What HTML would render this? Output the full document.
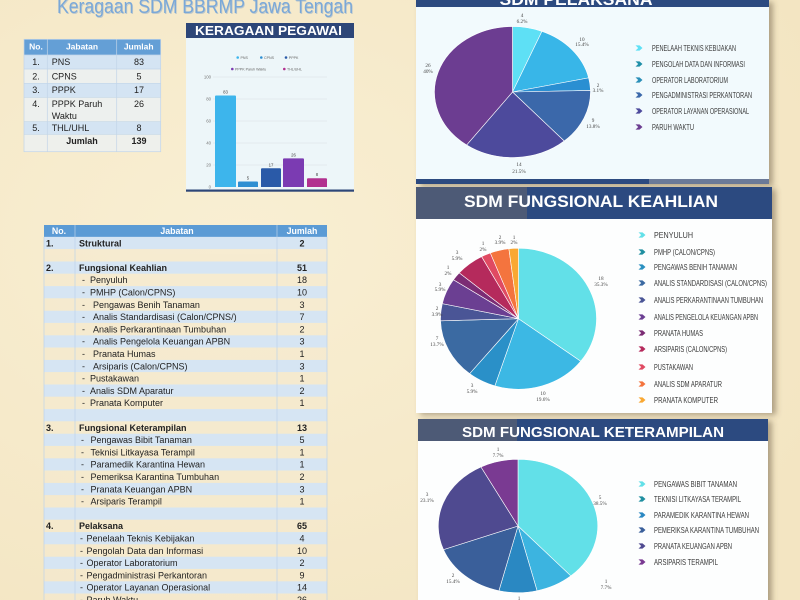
<!DOCTYPE html>
<html><head><meta charset="utf-8"><style>
html,body{margin:0;padding:0;background:#f7ebcb;}
svg{display:block}
</style></head><body>
<svg width="800" height="600" viewBox="0 0 800 600" xmlns="http://www.w3.org/2000/svg" font-family="'Liberation Sans', sans-serif">
<defs>
<filter id="sh" x="-10%" y="-10%" width="125%" height="125%"><feDropShadow dx="4" dy="2" stdDeviation="3" flood-color="#5a4a30" flood-opacity="0.45"/></filter>
<radialGradient id="bg" cx="0.3" cy="0.4" r="0.8"><stop offset="0" stop-color="#f9efd3"/><stop offset="1" stop-color="#f3e5c2"/></radialGradient>
<g id="mk"><path d="M-3.5,-2.6 L0.5,-2.6 L3.5,0 L0.5,2.6 L-3.5,2.6 L-0.8,0 Z"/></g>
</defs>
<rect width="800" height="600" fill="url(#bg)"/>

<!-- Title -->
<text x="57" y="13" font-size="20" fill="#8aa9cc" textLength="296" lengthAdjust="spacingAndGlyphs" opacity="0.5" transform="translate(0.8,0.8)">Keragaan SDM BBRMP Jawa Tengah</text>
<text x="57" y="13" font-size="20" fill="#7aa8d8" textLength="296" lengthAdjust="spacingAndGlyphs">Keragaan SDM BBRMP Jawa Tengah</text>

<!-- Small table -->
<g font-size="9" fill="#222">
<rect x="24" y="39.3" width="136.7" height="15.7" fill="#649fd6"/>
<rect x="24" y="55" width="136.7" height="14" fill="#d4e4f3"/>
<rect x="24" y="69" width="136.7" height="14.3" fill="#edf0ee"/>
<rect x="24" y="83.3" width="136.7" height="14" fill="#d4e4f3"/>
<rect x="24" y="97.3" width="136.7" height="24.4" fill="#edf0ee"/>
<rect x="24" y="121.7" width="136.7" height="12.6" fill="#d4e4f3"/>
<rect x="24" y="134.3" width="136.7" height="17.4" fill="#eef0ec"/>
<g stroke="#c2d5e8" stroke-width="0.7" fill="none">
<rect x="24" y="39.3" width="136.7" height="112.4"/>
<line x1="47.3" y1="39.3" x2="47.3" y2="151.7"/><line x1="116.7" y1="39.3" x2="116.7" y2="151.7"/>
<line x1="24" y1="55" x2="160.7" y2="55"/><line x1="24" y1="69" x2="160.7" y2="69"/><line x1="24" y1="83.3" x2="160.7" y2="83.3"/><line x1="24" y1="97.3" x2="160.7" y2="97.3"/><line x1="24" y1="121.7" x2="160.7" y2="121.7"/><line x1="24" y1="134.3" x2="160.7" y2="134.3"/>
</g>
<g fill="#fff" font-weight="bold" font-size="8.5" text-anchor="middle"><text x="36" y="49.5">No.</text><text x="82" y="49.5">Jabatan</text><text x="138.7" y="49.5">Jumlah</text></g>
<g text-anchor="middle"><text x="36" y="65">1.</text><text x="36" y="79.3">2.</text><text x="36" y="93">3.</text><text x="36" y="107">4.</text><text x="36" y="131">5.</text></g>
<text x="51.7" y="65">PNS</text><text x="51.7" y="79.3">CPNS</text><text x="51.7" y="93">PPPK</text><text x="51.7" y="107">PPPK Paruh</text><text x="51.7" y="119">Waktu</text><text x="51.7" y="131">THL/UHL</text>
<g text-anchor="middle"><text x="139" y="65">83</text><text x="139" y="79.3">5</text><text x="139" y="93">17</text><text x="139" y="107">26</text><text x="139" y="131">8</text></g>
<text x="82" y="144" font-weight="bold" text-anchor="middle">Jumlah</text><text x="139" y="144" font-weight="bold" text-anchor="middle">139</text>
</g>

<!-- Bar chart panel -->
<g>
<rect x="186" y="23" width="168" height="168" fill="#edf6f9"/>
<rect x="186" y="23" width="168" height="15" fill="#2d4678"/>
<text x="268.5" y="35" font-size="12.5" font-weight="bold" fill="#fff" text-anchor="middle" textLength="147" lengthAdjust="spacingAndGlyphs">KERAGAAN PEGAWAI</text>
<rect x="186" y="189.5" width="168" height="2.2" fill="#2d4678"/>
<g stroke="#d8dde2" stroke-width="0.5"><line x1="213" y1="77" x2="327" y2="77"/><line x1="213" y1="99" x2="327" y2="99"/><line x1="213" y1="121" x2="327" y2="121"/><line x1="213" y1="143" x2="327" y2="143"/><line x1="213" y1="165" x2="327" y2="165"/></g>
<g font-size="4.3" fill="#777" text-anchor="end"><text x="211" y="78.5">100</text><text x="211" y="100.5">80</text><text x="211" y="122.5">60</text><text x="211" y="144.5">40</text><text x="211" y="166.5">20</text><text x="211" y="188.5">0</text></g>
<path d="M215,187 V96.5 Q215,95.5 216,95.5 H235 Q236,95.5 236,96.5 V187 Z" fill="#3db5ec"/>
<path d="M238,187 V182.5 Q238,181.5 239,181.5 H257 Q258,181.5 258,182.5 V187 Z" fill="#2f8fd2"/>
<path d="M261,187 V169.3 Q261,168.3 262,168.3 H280 Q281,168.3 281,169.3 V187 Z" fill="#2a5aa8"/>
<path d="M283,187 V159.4 Q283,158.4 284,158.4 H303 Q304,158.4 304,159.4 V187 Z" fill="#7b3bb2"/>
<path d="M307,187 V179.2 Q307,178.2 308,178.2 H326 Q327,178.2 327,179.2 V187 Z" fill="#b2308f"/>
<g font-size="4.3" fill="#444" text-anchor="middle"><text x="225.5" y="93.5">83</text><text x="248" y="179.5">5</text><text x="271" y="166.3">17</text><text x="293.5" y="156.4">26</text><text x="317" y="176.2">8</text></g>
<g font-size="3.6" fill="#666">
<circle cx="237.7" cy="57.5" r="1.3" fill="#3db5ec"/><text x="240.5" y="58.8">PNS</text>
<circle cx="261.3" cy="57.5" r="1.3" fill="#2f8fd2"/><text x="264" y="58.8">CPNS</text>
<circle cx="286" cy="57.5" r="1.3" fill="#2a5aa8"/><text x="288.8" y="58.8">PPPK</text>
<circle cx="232.3" cy="69" r="1.3" fill="#7b3bb2"/><text x="235" y="70.3">PPPK Paruh Waktu</text>
<circle cx="284.3" cy="69" r="1.3" fill="#b2308f"/><text x="287" y="70.3">THL/UHL</text>
</g>
</g>

<!-- Big table -->
<g font-size="9" fill="#222">
<rect x="44" y="225" width="283" height="12" fill="#5b9bd5"/>
<g fill="#fff" font-weight="bold" text-anchor="middle" font-size="8.8"><text x="59" y="234">No.</text><text x="177" y="234">Jabatan</text><text x="302" y="234">Jumlah</text></g>
<g fill="#d6e5f3">
<rect x="44" y="236.85" width="283" height="12.3"/><rect x="44" y="261.45" width="283" height="12.3"/><rect x="44" y="286.05" width="283" height="12.3"/><rect x="44" y="310.65" width="283" height="12.3"/><rect x="44" y="335.25" width="283" height="12.3"/><rect x="44" y="359.85" width="283" height="12.3"/><rect x="44" y="384.45" width="283" height="12.3"/><rect x="44" y="409.05" width="283" height="12.3"/><rect x="44" y="433.65" width="283" height="12.3"/><rect x="44" y="458.25" width="283" height="12.3"/><rect x="44" y="482.85" width="283" height="12.3"/><rect x="44" y="507.45" width="283" height="12.3"/><rect x="44" y="532.05" width="283" height="12.3"/><rect x="44" y="556.65" width="283" height="12.3"/><rect x="44" y="581.25" width="283" height="12.3"/>
</g>
<g fill="#f5ead0" opacity="0.6">
<rect x="44" y="249.15" width="283" height="12.3"/><rect x="44" y="273.75" width="283" height="12.3"/><rect x="44" y="298.35" width="283" height="12.3"/><rect x="44" y="322.95" width="283" height="12.3"/><rect x="44" y="347.55" width="283" height="12.3"/><rect x="44" y="372.15" width="283" height="12.3"/><rect x="44" y="396.75" width="283" height="12.3"/><rect x="44" y="421.35" width="283" height="12.3"/><rect x="44" y="445.95" width="283" height="12.3"/><rect x="44" y="470.55" width="283" height="12.3"/><rect x="44" y="495.15" width="283" height="12.3"/><rect x="44" y="519.75" width="283" height="12.3"/><rect x="44" y="544.35" width="283" height="12.3"/><rect x="44" y="568.95" width="283" height="12.3"/><rect x="44" y="593.55" width="283" height="12.3"/>
</g>
<g stroke="#bcd2e8" stroke-width="0.7"><line x1="75" y1="225" x2="75" y2="600"/><line x1="277" y1="225" x2="277" y2="600"/><line x1="44" y1="237" x2="44" y2="600"/><line x1="327" y1="237" x2="327" y2="600"/></g>
<g font-weight="bold">
<text x="46" y="246.3">1.</text><text x="79" y="246.3">Struktural</text><text x="302" y="246.3" text-anchor="middle">2</text>
<text x="46" y="270.9">2.</text><text x="79" y="270.9">Fungsional Keahlian</text><text x="302" y="270.9" text-anchor="middle">51</text>
<text x="46" y="430.8">3.</text><text x="79" y="430.8">Fungsional Keterampilan</text><text x="302" y="430.8" text-anchor="middle">13</text>
<text x="46" y="529.2">4.</text><text x="79" y="529.2">Pelaksana</text><text x="302" y="529.2" text-anchor="middle">65</text>
</g>
<g>
<text x="82" y="283.2">-</text><text x="90" y="283.2">Penyuluh</text><text x="302" y="283.2" text-anchor="middle">18</text>
<text x="82" y="295.5">-</text><text x="90" y="295.5">PMHP (Calon/CPNS)</text><text x="302" y="295.5" text-anchor="middle">10</text>
<text x="82" y="307.8">-</text><text x="93" y="307.8">Pengawas Benih Tanaman</text><text x="302" y="307.8" text-anchor="middle">3</text>
<text x="82" y="320.1">-</text><text x="93" y="320.1">Analis Standardisasi (Calon/CPNS/)</text><text x="302" y="320.1" text-anchor="middle">7</text>
<text x="82" y="332.4">-</text><text x="93" y="332.4">Analis Perkarantinaan Tumbuhan</text><text x="302" y="332.4" text-anchor="middle">2</text>
<text x="82" y="344.7">-</text><text x="93" y="344.7">Analis Pengelola Keuangan APBN</text><text x="302" y="344.7" text-anchor="middle">3</text>
<text x="82" y="357">-</text><text x="93" y="357">Pranata Humas</text><text x="302" y="357" text-anchor="middle">1</text>
<text x="82" y="369.3">-</text><text x="93" y="369.3">Arsiparis (Calon/CPNS)</text><text x="302" y="369.3" text-anchor="middle">3</text>
<text x="82" y="381.6">-</text><text x="90" y="381.6">Pustakawan</text><text x="302" y="381.6" text-anchor="middle">1</text>
<text x="82" y="393.9">-</text><text x="90" y="393.9">Analis SDM Aparatur</text><text x="302" y="393.9" text-anchor="middle">2</text>
<text x="82" y="406.2">-</text><text x="90" y="406.2">Pranata Komputer</text><text x="302" y="406.2" text-anchor="middle">1</text>
<text x="81" y="443.1">-</text><text x="90.5" y="443.1">Pengawas Bibit Tanaman</text><text x="302" y="443.1" text-anchor="middle">5</text>
<text x="81" y="455.4">-</text><text x="90.5" y="455.4">Teknisi Litkayasa Terampil</text><text x="302" y="455.4" text-anchor="middle">1</text>
<text x="81" y="467.7">-</text><text x="90.5" y="467.7">Paramedik Karantina Hewan</text><text x="302" y="467.7" text-anchor="middle">1</text>
<text x="81" y="480">-</text><text x="90.5" y="480">Pemeriksa Karantina Tumbuhan</text><text x="302" y="480" text-anchor="middle">2</text>
<text x="81" y="492.3">-</text><text x="90.5" y="492.3">Pranata Keuangan APBN</text><text x="302" y="492.3" text-anchor="middle">3</text>
<text x="81" y="504.6">-</text><text x="90.5" y="504.6">Arsiparis Terampil</text><text x="302" y="504.6" text-anchor="middle">1</text>
<text x="80" y="541.5">-</text><text x="86.5" y="541.5">Penelaah Teknis Kebijakan</text><text x="302" y="541.5" text-anchor="middle">4</text>
<text x="80" y="553.8">-</text><text x="86.5" y="553.8">Pengolah Data dan Informasi</text><text x="302" y="553.8" text-anchor="middle">10</text>
<text x="80" y="566.1">-</text><text x="86.5" y="566.1">Operator Laboratorium</text><text x="302" y="566.1" text-anchor="middle">2</text>
<text x="80" y="578.4">-</text><text x="86.5" y="578.4">Pengadministrasi Perkantoran</text><text x="302" y="578.4" text-anchor="middle">9</text>
<text x="80" y="590.7">-</text><text x="86.5" y="590.7">Operator Layanan Operasional</text><text x="302" y="590.7" text-anchor="middle">14</text>
<text x="80" y="603">-</text><text x="86.5" y="603">Paruh Waktu</text><text x="302" y="603" text-anchor="middle">26</text>
</g>
</g>

<!-- Panel 1: SDM PELAKSANA -->
<g filter="url(#sh)">
<rect x="416" y="0" width="353" height="184" fill="#f2fafd"/>
</g>
<rect x="416" y="0" width="353" height="7" fill="#2c4a80"/>
<text x="576" y="5" font-size="17" font-weight="bold" fill="#fff" text-anchor="middle" textLength="153" lengthAdjust="spacingAndGlyphs">SDM PELAKSANA</text>
<rect x="416" y="179" width="233" height="5" fill="#2c4a80"/>
<rect x="649" y="179" width="120" height="5" fill="#6b7a98"/>
<g stroke="#fff" stroke-width="0.6">
<path d="M512.5,92 L512.5,26.5 A78,65.5 0 0 1 541.91,31.33 Z" fill="#5ee0f5"/>
<path d="M512.5,92 L541.91,31.33 A78,65.5 0 0 1 588.66,77.87 Z" fill="#38b6e8"/>
<path d="M512.5,92 L588.66,77.87 A78,65.5 0 0 1 590.48,90.42 Z" fill="#2a8fd2"/>
<path d="M512.5,92 L590.48,90.42 A78,65.5 0 0 1 564.22,141.03 Z" fill="#3b68aa"/>
<path d="M512.5,92 L564.22,141.03 A78,65.5 0 0 1 466.65,144.99 Z" fill="#4d4a9c"/>
<path d="M512.5,92 L466.65,144.99 A78,65.5 0 0 1 512.5,26.5 Z" fill="#6c3d91"/>
</g>
<g font-family="'Liberation Serif', serif" font-size="5.2" fill="#444" text-anchor="middle">
<text x="522" y="17">4</text><text x="522" y="23">6.2%</text>
<text x="582" y="41">10</text><text x="582" y="46">15.4%</text>
<text x="598" y="87">2</text><text x="598" y="92">3.1%</text>
<text x="593" y="122">9</text><text x="593" y="128">13.8%</text>
<text x="519" y="166">14</text><text x="519" y="173">21.5%</text>
<text x="428" y="67">26</text><text x="428" y="73">40%</text>
</g>
<g font-size="8" fill="#3a3a3a" font-family="'Liberation Sans Narrow','Liberation Sans',sans-serif">
<use href="#mk" x="639" y="48" fill="#5ee0f5"/><text x="652" y="51" textLength="84" lengthAdjust="spacingAndGlyphs">PENELAAH TEKNIS KEBIJAKAN</text>
<use href="#mk" x="639" y="64" fill="#1f8fa8"/><text x="652" y="67" textLength="93" lengthAdjust="spacingAndGlyphs">PENGOLAH DATA DAN INFORMASI</text>
<use href="#mk" x="639" y="80" fill="#2a8fb8"/><text x="652" y="83" textLength="76" lengthAdjust="spacingAndGlyphs">OPERATOR LABORATORIUM</text>
<use href="#mk" x="639" y="95" fill="#3b68aa"/><text x="652" y="98" textLength="100" lengthAdjust="spacingAndGlyphs">PENGADMINISTRASI PERKANTORAN</text>
<use href="#mk" x="639" y="111" fill="#4d4a9c"/><text x="652" y="114" textLength="97" lengthAdjust="spacingAndGlyphs">OPERATOR LAYANAN OPERASIONAL</text>
<use href="#mk" x="639" y="127" fill="#6c3d91"/><text x="652" y="130" textLength="42" lengthAdjust="spacingAndGlyphs">PARUH WAKTU</text>
</g>

<!-- Panel 2: SDM FUNGSIONAL KEAHLIAN -->
<g filter="url(#sh)">
<rect x="416" y="187" width="356" height="226" fill="#fdfefe"/>
</g>
<rect x="416" y="187" width="356" height="32" fill="#2c4a80"/>
<rect x="416" y="187" width="111" height="32" fill="#4d5a76"/>
<text x="591" y="207" font-size="17" font-weight="bold" fill="#fff" text-anchor="middle" textLength="254" lengthAdjust="spacingAndGlyphs">SDM FUNGSIONAL KEAHLIAN</text>
<g stroke="#fff" stroke-width="0.6">
<path d="M518.5,318.7 L518.5,248.2 A78,70.5 0 0 1 580.71,361.23 Z" fill="#62e0e8"/>
<path d="M518.5,318.7 L580.71,361.23 A78,70.5 0 0 1 494.85,385.88 Z" fill="#3cb8e4"/>
<path d="M518.5,318.7 L494.85,385.88 A78,70.5 0 0 1 469.62,373.64 Z" fill="#2a90c8"/>
<path d="M518.5,318.7 L469.62,373.64 A78,70.5 0 0 1 440.54,320.86 Z" fill="#3b6aa2"/>
<path d="M518.5,318.7 L440.54,320.86 A78,70.5 0 0 1 442.30,303.62 Z" fill="#4a5596"/>
<path d="M518.5,318.7 L442.30,303.62 A78,70.5 0 0 1 453.48,279.76 Z" fill="#6b3f92"/>
<path d="M518.5,318.7 L453.48,279.76 A78,70.5 0 0 1 459.27,272.83 Z" fill="#7b2c74"/>
<path d="M518.5,318.7 L459.27,272.83 A78,70.5 0 0 1 481.60,256.59 Z" fill="#b52a5c"/>
<path d="M518.5,318.7 L481.60,256.59 A78,70.5 0 0 1 490.32,252.97 Z" fill="#e04a62"/>
<path d="M518.5,318.7 L490.32,252.97 A78,70.5 0 0 1 508.91,248.74 Z" fill="#f4743e"/>
<path d="M518.5,318.7 L508.91,248.74 A78,70.5 0 0 1 518.5,248.2 Z" fill="#f9a832"/>
</g>
<g font-family="'Liberation Serif', serif" font-size="5.2" fill="#444" text-anchor="middle">
<text x="514" y="239">1</text><text x="514" y="244">2%</text>
<text x="500" y="239">2</text><text x="500" y="244">3.9%</text>
<text x="483" y="245">1</text><text x="483" y="251">2%</text>
<text x="457" y="254">3</text><text x="457" y="260">5.9%</text>
<text x="448" y="269">1</text><text x="448" y="275">2%</text>
<text x="440" y="286">3</text><text x="440" y="291">5.9%</text>
<text x="437" y="310">2</text><text x="437" y="316">3.9%</text>
<text x="437" y="340">7</text><text x="437" y="346">13.7%</text>
<text x="472" y="387">3</text><text x="472" y="393">5.9%</text>
<text x="543" y="395">10</text><text x="543" y="401">19.6%</text>
<text x="601" y="280">18</text><text x="601" y="286">35.3%</text>
</g>
<g font-size="8" fill="#3a3a3a" font-family="'Liberation Sans Narrow','Liberation Sans',sans-serif">
<use href="#mk" x="642" y="235" fill="#62e0e8"/><text x="654" y="238" textLength="39" lengthAdjust="spacingAndGlyphs">PENYULUH</text>
<use href="#mk" x="642" y="252" fill="#1f8fa0"/><text x="654" y="255" textLength="61" lengthAdjust="spacingAndGlyphs">PMHP (CALON/CPNS)</text>
<use href="#mk" x="642" y="267" fill="#2a90c0"/><text x="654" y="270" textLength="83" lengthAdjust="spacingAndGlyphs">PENGAWAS BENIH TANAMAN</text>
<use href="#mk" x="642" y="283" fill="#3b6aa2"/><text x="654" y="286" textLength="113" lengthAdjust="spacingAndGlyphs">ANALIS STANDARDISASI (CALON/CPNS)</text>
<use href="#mk" x="642" y="300" fill="#4a5596"/><text x="654" y="303" textLength="109" lengthAdjust="spacingAndGlyphs">ANALIS PERKARANTINAAN TUMBUHAN</text>
<use href="#mk" x="642" y="317" fill="#6b3f92"/><text x="654" y="320" textLength="104" lengthAdjust="spacingAndGlyphs">ANALIS PENGELOLA KEUANGAN APBN</text>
<use href="#mk" x="642" y="333" fill="#7b2c74"/><text x="654" y="336" textLength="49" lengthAdjust="spacingAndGlyphs">PRANATA HUMAS</text>
<use href="#mk" x="642" y="349" fill="#b52a5c"/><text x="654" y="352" textLength="73" lengthAdjust="spacingAndGlyphs">ARSIPARIS (CALON/CPNS)</text>
<use href="#mk" x="642" y="367" fill="#e04a62"/><text x="654" y="370" textLength="39" lengthAdjust="spacingAndGlyphs">PUSTAKAWAN</text>
<use href="#mk" x="642" y="384" fill="#f4743e"/><text x="654" y="387" textLength="68" lengthAdjust="spacingAndGlyphs">ANALIS SDM APARATUR</text>
<use href="#mk" x="642" y="400" fill="#f9a832"/><text x="654" y="403" textLength="64" lengthAdjust="spacingAndGlyphs">PRANATA KOMPUTER</text>
</g>

<!-- Panel 3: SDM FUNGSIONAL KETERAMPILAN -->
<g filter="url(#sh)">
<rect x="418" y="419" width="350" height="190" fill="#fdfefe"/>
</g>
<rect x="418" y="419" width="350" height="22" fill="#2c4a80"/>
<rect x="418" y="419" width="99" height="22" fill="#4d5a76"/>
<text x="593" y="437" font-size="15" font-weight="bold" fill="#fff" text-anchor="middle" textLength="262" lengthAdjust="spacingAndGlyphs">SDM FUNGSIONAL KETERAMPILAN</text>
<g stroke="#fff" stroke-width="0.6">
<path d="M518,526 L518,459.3 A79.7,66.7 0 0 1 570.85,575.92 Z" fill="#62e0e8"/>
<path d="M518,526 L570.85,575.92 A79.7,66.7 0 0 1 537.07,590.76 Z" fill="#3cb4e0"/>
<path d="M518,526 L537.07,590.76 A79.7,66.7 0 0 1 498.93,590.76 Z" fill="#2a88c2"/>
<path d="M518,526 L498.93,590.76 A79.7,66.7 0 0 1 443.48,549.65 Z" fill="#3a5f9a"/>
<path d="M518,526 L443.48,549.65 A79.7,66.7 0 0 1 480.96,466.94 Z" fill="#4f4a90"/>
<path d="M518,526 L480.96,466.94 A79.7,66.7 0 0 1 518,459.3 Z" fill="#7a3a92"/>
</g>
<g font-family="'Liberation Serif', serif" font-size="5.2" fill="#444" text-anchor="middle">
<text x="498" y="451">1</text><text x="498" y="457">7.7%</text>
<text x="600" y="499">5</text><text x="600" y="505">38.5%</text>
<text x="606" y="583">1</text><text x="606" y="589">7.7%</text>
<text x="519" y="600">1</text>
<text x="453" y="577">2</text><text x="453" y="583">15.4%</text>
<text x="427" y="496">3</text><text x="427" y="502">23.1%</text>
</g>
<g font-size="8" fill="#3a3a3a" font-family="'Liberation Sans Narrow','Liberation Sans',sans-serif">
<use href="#mk" x="642" y="484" fill="#62e0e8"/><text x="654" y="487" textLength="83" lengthAdjust="spacingAndGlyphs">PENGAWAS BIBIT TANAMAN</text>
<use href="#mk" x="642" y="499" fill="#1f8fa0"/><text x="654" y="502" textLength="87" lengthAdjust="spacingAndGlyphs">TEKNISI LITKAYASA TERAMPIL</text>
<use href="#mk" x="642" y="515" fill="#2a88c2"/><text x="654" y="518" textLength="95" lengthAdjust="spacingAndGlyphs">PARAMEDIK KARANTINA HEWAN</text>
<use href="#mk" x="642" y="530" fill="#3a5f9a"/><text x="654" y="533" textLength="105" lengthAdjust="spacingAndGlyphs">PEMERIKSA KARANTINA TUMBUHAN</text>
<use href="#mk" x="642" y="546" fill="#4f4a90"/><text x="654" y="549" textLength="78" lengthAdjust="spacingAndGlyphs">PRANATA KEUANGAN APBN</text>
<use href="#mk" x="642" y="562" fill="#7a3a92"/><text x="654" y="565" textLength="64" lengthAdjust="spacingAndGlyphs">ARSIPARIS TERAMPIL</text>
</g>
</svg>
</body></html>
